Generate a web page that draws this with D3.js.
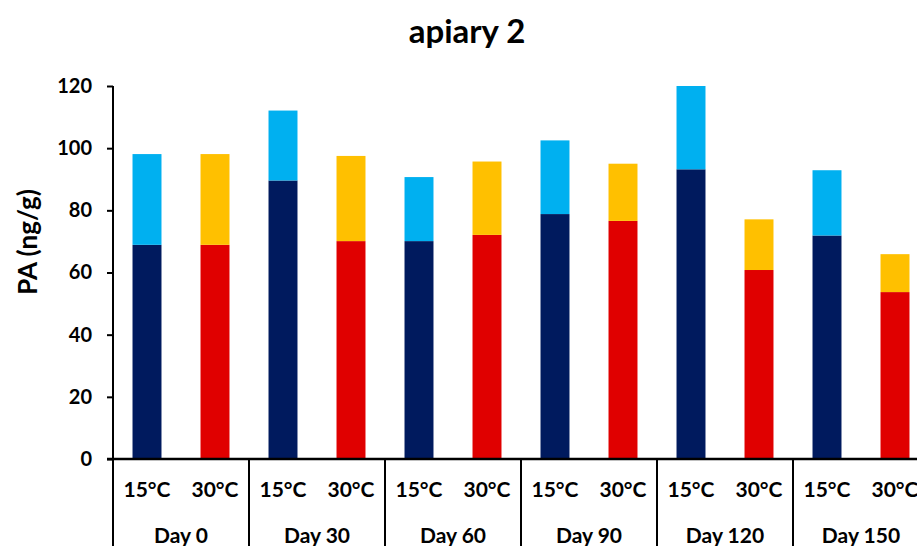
<!DOCTYPE html>
<html>
<head>
<meta charset="utf-8">
<script src="https://cdn.jsdelivr.net/npm/d3@7"></script>
<style>
  html, body { margin: 0; padding: 0; background: #fff; }
  svg { display: block; font-family: Lato, "Open Sans", sans-serif; font-weight: bold; }
</style>
</head>
<body>
<div id="chart"></div>
<script>
// categories
const days = ['Day 0', 'Day 30', 'Day 60', 'Day 90', 'Day 120', 'Day 150'];
const temps = ['15°C', '30°C'];

// lower and upper segments of each stacked bar (ng/g)
const lower15 = [68.9, 89.6, 70.1, 78.8, 93.2, 71.9];
const upper15 = [29.2, 22.5, 20.6, 23.7, 26.8, 21.0];
const lower30 = [68.9, 70.1, 72.1, 76.6, 60.8, 53.7];
const upper30 = [29.2, 27.4, 23.6, 18.4, 16.3, 12.2];

const yTicks = [0, 20, 40, 60, 80, 100, 120];

const colors = {
  '15°C': ['#001A5E', '#00B0F0'],
  '30°C': ['#E00000', '#FFC000']
};

const width = 917;
const height = 546;

const svg = d3.select('#chart')
  .append('svg')
  .attr('width', width)
  .attr('height', height);

// scales
const y = d3.scaleLinear().domain([0, 120]).range([459, 86]);
const x0 = d3.scaleBand().domain(days).range([113, 929]);
const x1 = d3.scaleBand().domain(temps).range([0, x0.bandwidth()])
  .paddingInner(0.574).paddingOuter(0.287);

// build rows for the bars
const rows = [];
days.forEach((d, i) => {
  rows.push({ day: d, temp: '15°C', lo: lower15[i], hi: upper15[i] });
  rows.push({ day: d, temp: '30°C', lo: lower30[i], hi: upper30[i] });
});

const bars = svg.append('g')
  .selectAll('g')
  .data(rows)
  .enter().append('g')
  .attr('transform', d => `translate(${x0(d.day) + x1(d.temp)},0)`);

bars.append('rect')
  .attr('y', d => y(d.lo))
  .attr('width', x1.bandwidth())
  .attr('height', d => y(0) - y(d.lo))
  .style('fill', d => colors[d.temp][0]);

bars.append('rect')
  .attr('y', d => y(d.lo + d.hi))
  .attr('width', x1.bandwidth())
  .attr('height', d => y(d.lo) - y(d.lo + d.hi))
  .style('fill', d => colors[d.temp][1]);

// y axis
const yAxis = svg.append('g')
  .attr('transform', 'translate(113,0)')
  .call(d3.axisLeft(y).tickValues(yTicks).tickSize(6).tickPadding(15));
yAxis.select('.domain').attr('stroke', '#000').attr('stroke-width', 2).attr('d', `M0,${y(120)}V${y(0)}`);
yAxis.selectAll('.tick line').attr('stroke', '#000').attr('stroke-width', 2);
yAxis.selectAll('.tick text')
  .attr('fill', '#000')
  .style('font-family', 'Lato, sans-serif')
  .style('font-weight', 'bold')
  .style('font-size', '20px');

// x axis line
svg.append('line')
  .attr('x1', 107).attr('x2', width)
  .attr('y1', y(0)).attr('y2', y(0))
  .attr('stroke', '#000').attr('stroke-width', 2.5);

// group separators
svg.append('g')
  .selectAll('line')
  .data(days.concat(['end']))
  .enter().append('line')
  .attr('x1', (d, i) => i < days.length ? x0(d) : x0.range()[1])
  .attr('x2', (d, i) => i < days.length ? x0(d) : x0.range()[1])
  .attr('y1', y(0)).attr('y2', height)
  .attr('stroke', '#000').attr('stroke-width', 2);

// temperature labels
svg.append('g')
  .selectAll('text')
  .data(rows)
  .enter().append('text')
  .attr('x', d => x0(d.day) + x1(d.temp) + x1.bandwidth() / 2)
  .attr('y', 497)
  .attr('text-anchor', 'middle')
  .style('font-size', '21px')
  .text(d => d.temp);

// day labels
svg.append('g')
  .selectAll('text')
  .data(days)
  .enter().append('text')
  .attr('x', d => x0(d) + x0.bandwidth() / 2)
  .attr('y', 543)
  .attr('text-anchor', 'middle')
  .style('font-size', '21px')
  .text(d => d);

// title
svg.append('text')
  .attr('x', 467)
  .attr('y', 43)
  .attr('text-anchor', 'middle')
  .style('font-size', '33px')
  .text('apiary 2');

// y label
svg.append('text')
  .attr('transform', 'translate(37,242) rotate(-90)')
  .attr('text-anchor', 'middle')
  .style('font-size', '26px')
  .text('PA (ng/g)');
</script>
</body>
</html>
